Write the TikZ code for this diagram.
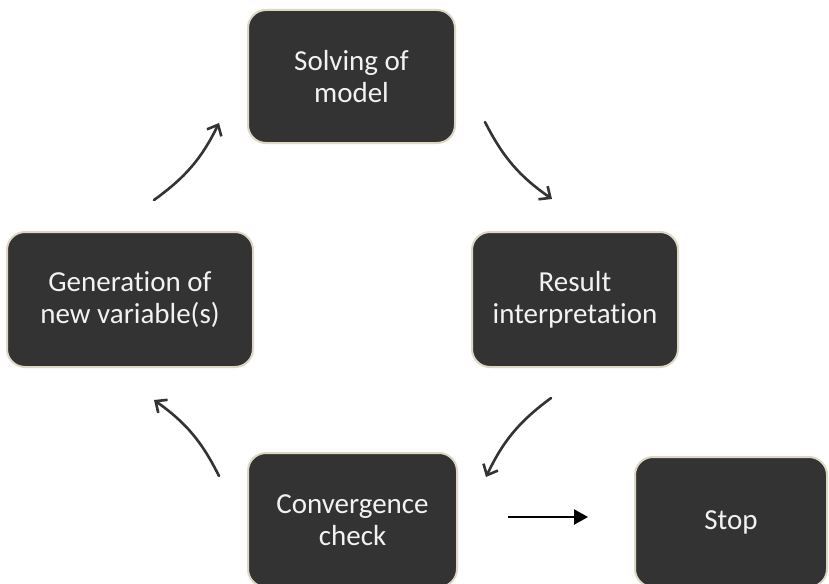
\documentclass[tikz,border=0pt]{standalone}
\usepackage{fontspec}
\setmainfont{Carlito}[RawFeature=-liga]
\usetikzlibrary{arrows.meta}
\definecolor{boxfill}{HTML}{333333}
\definecolor{boxedge}{HTML}{DDD7C6}
\definecolor{arrowgray}{HTML}{333333}
\begin{document}
\begin{tikzpicture}[x=1pt,y=-1pt,
  box/.style={draw=boxedge, line width=2pt, fill=boxfill, rounded corners=18pt,
    text=white!95!black, align=center, inner sep=0pt,
    font=\fontsize{29}{32}\selectfont},
  cyc/.style={draw=arrowgray, line width=2.6pt, line cap=round,
    -{Straight Barb[length=9pt,width=16pt,line width=2.6pt]}},
  stoparrow/.style={draw=black, line width=2.2pt,
    -{Triangle[length=14pt,width=15pt]}}]
\clip (0,0) rectangle (829,583);
\fill[white] (0,0) rectangle (829,583);
\node[box, minimum width=207pt, minimum height=133pt] (solve) at (351.5,76.5) {Solving of\\model};
\node[box, minimum width=246pt, minimum height=135pt] (gen) at (130,299.5) {Generation of\\new variable(s)};
\node[box, minimum width=206pt, minimum height=135pt] (res) at (575,299.5) {Result\\interpretation};
\node[box, minimum width=209pt, minimum height=134pt] (conv) at (352.5,520) {Convergence\\check};
\node[box, minimum width=192pt, minimum height=130pt] (stop) at (731,522) {Stop};

\coordinate (a1s) at (485,122);
\coordinate (a1e) at (552,199);
\coordinate (a2s) at (551,398);
\coordinate (a2e) at (486,477);
\coordinate (a3s) at (219,476);
\coordinate (a3e) at (154,400);
\coordinate (a4s) at (154,200);
\coordinate (a4e) at (219,123);
\coordinate (a5s) at (508,517);
\coordinate (a5e) at (588,517);

\draw[cyc] (a1s) to[bend right=14] (a1e);
\draw[cyc] (a2s) to[bend right=14] (a2e);
\draw[cyc] (a3s) to[bend right=14] (a3e);
\draw[cyc] (a4s) to[bend right=14] (a4e);
\draw[stoparrow] (a5s) -- (a5e);
\end{tikzpicture}
\end{document}
